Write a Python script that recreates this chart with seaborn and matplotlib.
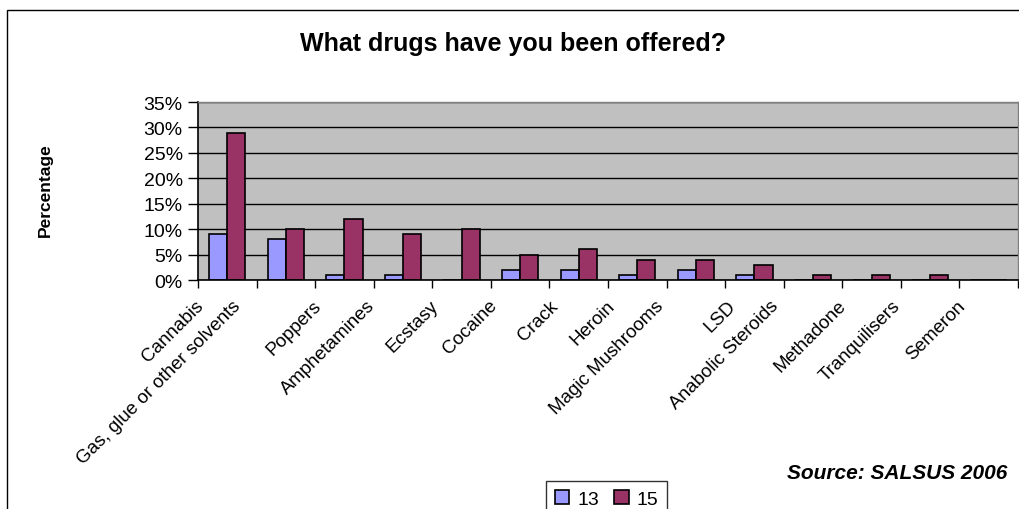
import numpy as np
import pandas as pd
import matplotlib
matplotlib.use('Agg')
import matplotlib.pyplot as plt
import matplotlib.transforms as mtransforms
from matplotlib.patches import Rectangle
import seaborn as sns

# Данные с картинки (проценты)
drugs = ['Cannabis', 'Gas, glue or other solvents', 'Poppers', 'Amphetamines',
         'Ecstasy', 'Cocaine', 'Crack', 'Heroin', 'Magic Mushrooms', 'LSD',
         'Anabolic Steroids', 'Methadone', 'Tranquilisers', 'Semeron']
age_13 = [9, 8, 1, 1, 0, 2, 2, 1, 2, 1, 0, 0, 0, 0]
age_15 = [29, 10, 12, 9, 10, 5, 6, 4, 4, 3, 1, 1, 1, 0]
ages = ['13', '15']
colors = ['#9999FF', '#993366']

df = pd.DataFrame({
    'drug': drugs * 2,
    'age': [ages[0]] * len(drugs) + [ages[1]] * len(drugs),
    'value': age_13 + age_15,
})

sns.set_style('white')
plt.rcParams['font.family'] = ['Liberation Sans', 'DejaVu Sans']
plt.rcParams['text.color'] = 'black'
plt.rcParams['xtick.color'] = 'black'
plt.rcParams['ytick.color'] = 'black'

fig = plt.figure(figsize=(10.2, 5.1), dpi=100)
ax = fig.add_axes([198 / 1020, 1 - 281 / 510, 820 / 1020, 178 / 510])
ax.set_facecolor('#C0C0C0')

sns.barplot(data=df, x='drug', y='value', hue='age', hue_order=ages,
            palette=colors, edgecolor='black', linewidth=1.2,
            width=0.62, saturation=1, ax=ax, legend=True)

# оси и сетка
ax.set_ylim(0, 35)
ax.set_xlim(-0.5, len(drugs) - 0.5)
ax.set_yticks(np.arange(0, 36, 5))
ax.set_yticklabels([f'{v}%' for v in range(0, 36, 5)], fontsize=14)
ax.yaxis.grid(True, color='black', linewidth=1)
ax.set_axisbelow(True)
ax.tick_params(axis='y', which='major', direction='out', length=7, width=1,
               color='black', labelcolor='black', left=True, pad=4)

ax.set_xticks(np.arange(-0.5, len(drugs), 1), minor=True)
ax.tick_params(axis='x', which='minor', direction='out', length=6, width=1,
               color='black', bottom=True)
ax.tick_params(axis='x', which='major', length=0, pad=12, labelcolor='black')
ax.set_xticklabels(drugs, rotation=45, ha='right', fontsize=13.5)

# сдвиг подписей влево, как в Excel
for lab in ax.get_xticklabels():
    dx = 12 + 1.1 * len(lab.get_text())
    lab.set_transform(lab.get_transform() +
                      mtransforms.ScaledTranslation(-dx / 100, 0, fig.dpi_scale_trans))

for side in ['left', 'bottom']:
    ax.spines[side].set_color('black')
    ax.spines[side].set_linewidth(1.2)
for side in ['top', 'right']:
    ax.spines[side].set_color('#808080')
    ax.spines[side].set_linewidth(1)

ax.set_xlabel('')
ax.set_ylabel('')

# подписи
fig.text(513 / 1020, 1 - 44 / 510, 'What drugs have you been offered?',
         ha='center', va='center', fontsize=18, fontweight='bold')
fig.text(45 / 1020, 1 - 190 / 510, 'Percentage', rotation=90,
         ha='center', va='center', fontsize=12.5, fontweight='bold')
fig.text(1007 / 1020, 1 - 474 / 510, 'Source: SALSUS 2006',
         ha='right', va='center', fontsize=15, fontweight='bold', style='italic')

# легенда
handles, labels = ax.get_legend_handles_labels()
ax.legend_.remove()
leg = fig.legend(handles, labels, loc='upper left',
                 bbox_to_anchor=(546 / 1020, 1 - 482 / 510),
                 bbox_transform=fig.transFigure, ncol=2, frameon=True,
                 fancybox=False, edgecolor='black', fontsize=14,
                 handlelength=0.75, handleheight=0.75, handletextpad=0.4,
                 columnspacing=0.8, borderpad=0.45, borderaxespad=0)
leg.get_frame().set_linewidth(1)

# рамка всей диаграммы
fig.patches.append(Rectangle((7 / 1020, -0.2), 1.2, 1.2 - 11 / 510,
                             transform=fig.transFigure, fill=False,
                             edgecolor='black', linewidth=1))

plt.savefig('out.png', dpi=100)
